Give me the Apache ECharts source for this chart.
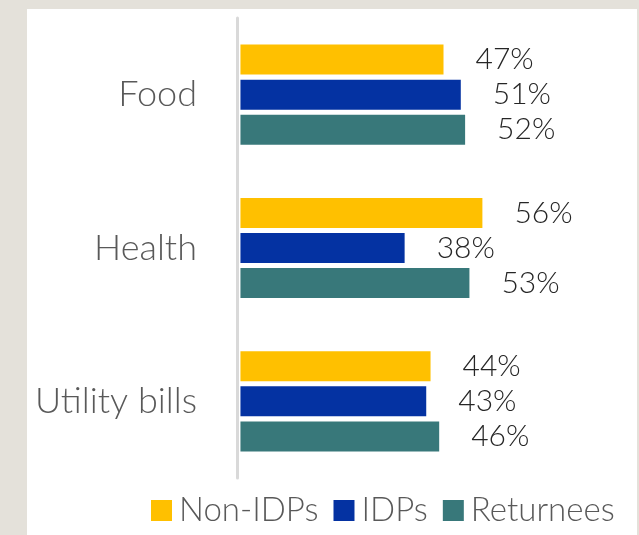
<!DOCTYPE html>
<html>
<head>
<meta charset="utf-8">
<script src="https://cdn.jsdelivr.net/npm/echarts@6/dist/echarts.min.js"></script>
<style>
	html, body {
		margin: 0;
		padding: 0;
		width: 639px;
		height: 535px;
		background: #e4e1da;
		overflow: hidden;
	}
	#chart {
		position: absolute;
		left: 27px;
		top: 9px;
		width: 610px;
		height: 526px;
		background: #ffffff;
	}
</style>
</head>
<body>
<div id="chart"></div>
<script>
	// 数据
	const categories = ["Food", "Health", "Utility bills"];
	const seriesNames = ["Non-IDPs", "IDPs", "Returnees"];
	const nonIdps = [47, 56, 44];
	const idps = [51, 38, 43];
	const returnees = [52, 53, 46];
	const colors = ["#ffc000", "#0432a2", "#38787a"];

	const chart = echarts.init(document.getElementById("chart"));
	const font = "Lato, 'Open Sans', sans-serif";

	const makeSeries = (name, values, i) => ({
		name: name,
		type: "bar",
		barWidth: 30,
		barGap: "17%",
		barCategoryGap: "35%",
		itemStyle: { color: colors[i] },
		data: values,
		label: {
			show: true,
			position: "right",
			distance: 32,
			formatter: "{c}%",
			color: "#262626",
			fontFamily: font,
			fontWeight: 300,
			fontSize: 30
		}
	});

	chart.setOption({
		animation: false,
		textStyle: { fontFamily: font },
		grid: {
			left: 210,
			right: 25,
			top: 9,
			bottom: 57,
			containLabel: false
		},
		legend: {
			data: seriesNames,
			icon: "rect",
			bottom: 3,
			left: 119,
			itemWidth: 21,
			itemHeight: 21,
			itemGap: 15,
			textStyle: {
				color: "#595959",
				fontSize: 33,
				fontWeight: 300,
				fontFamily: font,
				padding: [0, 0, 0, 2]
			}
		},
		xAxis: {
			type: "value",
			min: -0.8,
			max: 86,
			show: false
		},
		yAxis: {
			type: "category",
			inverse: true,
			data: categories,
			axisLine: { onZero: false, lineStyle: { color: "#d9d9d9", width: 3 } },
			axisTick: { show: false },
			axisLabel: {
				color: "#595959",
				fontSize: 36,
				fontWeight: 300,
				fontFamily: font,
				margin: 40
			}
		},
		series: [
			makeSeries(seriesNames[0], nonIdps, 0),
			makeSeries(seriesNames[1], idps, 1),
			makeSeries(seriesNames[2], returnees, 2)
		]
	});
</script>
</body>
</html>
